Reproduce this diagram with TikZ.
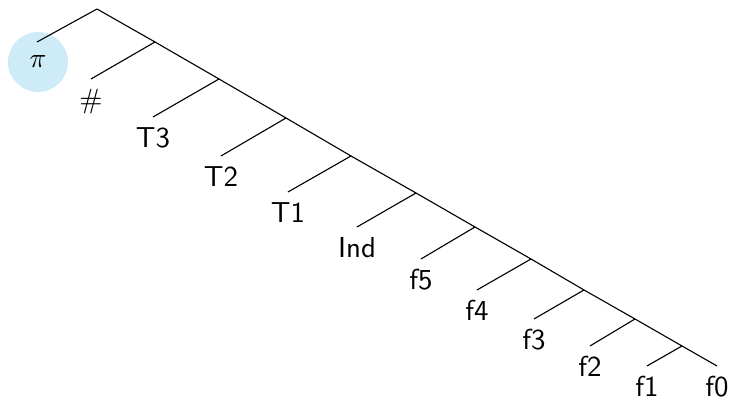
\documentclass[tikz,border=0pt]{standalone}
\usepackage{amsmath,amssymb}
\usepackage{tikz}
\usetikzlibrary{positioning, calc}
\definecolor{piblue}{RGB}{206,236,248}

\begin{document}
\begin{tikzpicture}[
    x=0.36pt, y=-0.36pt,
    leaf/.style={anchor=north, inner sep=3.5pt, font=\fontsize{10.4}{12}\selectfont\sffamily},
    fork/.style={coordinate},
    hub/.style={circle, fill=piblue, minimum size=60*0.36pt, inner sep=0pt, font=\fontsize{10.4}{12}\selectfont}
]
\useasboundingbox (0,0) rectangle (731,399);

% --- Spine of the tree ---
\node[fork] (n0) at (97,9) {};
\node[fork] (n1) at (155,42) {};
\node[fork] (n2) at (219,79) {};
\node[fork] (n3) at (286,118) {};
\node[fork] (n4) at (351,156) {};
\node[fork] (n5) at (416,193) {};
\node[fork] (n6) at (475,227) {};
\node[fork] (n7) at (531,259) {};
\node[fork] (n8) at (584,290) {};
\node[fork] (n9) at (635,319) {};
\node[fork] (n10) at (682,346) {};

% --- Leaves ---
\node[hub] (pi) at (38,62) {$\pi$};
\node[fork] (pitop) at (37,42) {};
\node[leaf] (hash) at (91,79) {$\#$};
\node[leaf] (t3) at (153,117) {T3};
\node[leaf] (t2) at (221,156) {T2};
\node[leaf] (t1) at (288,192) {T1};
\node[leaf] (ind) at (357,227) {Ind};
\node[leaf] (f5) at (421,259) {f5};
\node[leaf] (f4) at (477,290) {f4};
\node[leaf] (f3) at (534,319) {f3};
\node[leaf] (f2) at (590,346) {f2};
\node[leaf] (f1) at (647,366) {f1};
\node[leaf] (f0) at (717,366) {f0};

% Main diagonal
\draw (n0) -- (n1) -- (n2) -- (n3) -- (n4) -- (n5) -- (n6) -- (n7) -- (n8) -- (n9) -- (n10) -- (f0.north);

% Side branches
\draw (n0) -- (pitop);
\draw (n1) -- (hash.north);
\draw (n2) -- (t3.north);
\draw (n3) -- (t2.north);
\draw (n4) -- (t1.north);
\draw (n5) -- (ind.north);
\draw (n6) -- (f5.north);
\draw (n7) -- (f4.north);
\draw (n8) -- (f3.north);
\draw (n9) -- (f2.north);
\draw (n10) -- (f1.north);

\end{tikzpicture}
\end{document}
